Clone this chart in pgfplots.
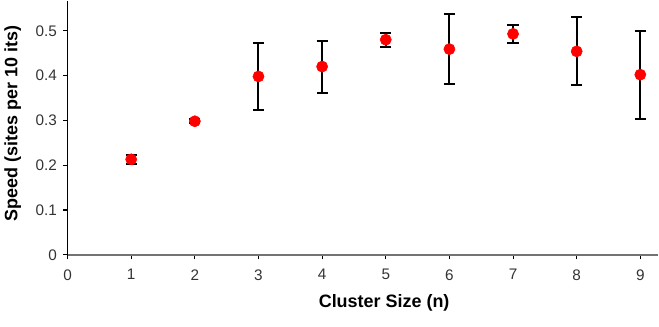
\documentclass[border=0pt]{standalone}
\usepackage{fontspec}
\setmainfont{Liberation Sans}
\usepackage{pgfplots}
\usepackage{pgfplotstable}
\pgfplotsset{compat=1.18}

\pgfplotstableread{
x    y      e
1    0.213  0.010
2    0.298  0.005
3    0.398  0.075
4    0.420  0.058
5    0.480  0.016
6    0.459  0.078
7    0.493  0.020
8    0.454  0.076
9    0.402  0.098
}\speed

\begin{document}
\begin{tikzpicture}
\begin{axis}[
    scale only axis,
    width=444pt, height=191pt,
    xmin=0, xmax=9.28,
    ymin=0, ymax=0.567,
    axis lines*=left,
    x axis line style={-, draw=black!55, line width=1.3pt},
    y axis line style={-, draw=black, line width=1.1pt},
    xtick={0,...,9},
    ytick={0,0.1,0.2,0.3,0.4,0.5},
    tick align=outside,
    major tick length=3.5pt,
    tick style={black, line width=0.8pt},
    /pgf/number format/assume math mode=true,
    /pgf/number format/fixed,
    /pgf/number format/precision=1,
    tick label style={font=\fontsize{11.5pt}{13pt}\selectfont, black!80},
    xticklabel style={yshift=-4pt},
    yticklabel style={xshift=-1pt},
    xlabel={\textbf{Cluster Size (n)}},
    ylabel={\textbf{Speed (sites per 10 its)}},
    label style={font=\fontsize{13.5pt}{15pt}\selectfont},
    xlabel style={yshift=-4pt, xshift=16pt},
    ylabel style={yshift=4pt, xshift=3pt},
    clip=false,
]
% markers first
\addplot[only marks, mark=*, mark size=4.2pt,
    mark options={fill=red, draw=red}] table[x=x, y=y] {\speed};
% error bars on top, as in the original
\addplot[draw=none, mark=none,
    error bars/.cd,
      y dir=both, y explicit,
      error mark options={black, line width=1.5pt, mark size=4.2pt, rotate=90},
      error bar style={black, line width=1.5pt},
] table[x=x, y=y, y error=e] {\speed};
\end{axis}
\path ([xshift=-50pt,yshift=-54pt]current axis.south west) rectangle (current axis.north east);
\end{tikzpicture}
\end{document}
